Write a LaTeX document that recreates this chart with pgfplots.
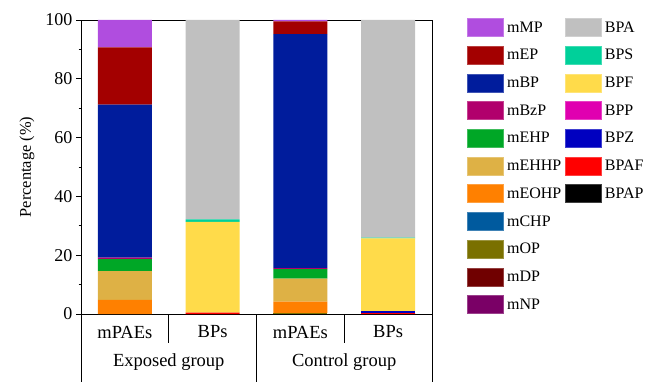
\documentclass[border=0pt]{standalone}
\usepackage{fontspec}
\setmainfont{Liberation Serif}
\usepackage{pgfplots}
\pgfplotsset{compat=1.18}
\definecolor{cMMP}{RGB}{176,77,223}
\definecolor{cMEP}{RGB}{163,0,0}
\definecolor{cMBP}{RGB}{0,28,156}
\definecolor{cMBZP}{RGB}{177,0,108}
\definecolor{cMEHP}{RGB}{0,167,38}
\definecolor{cMEHHP}{RGB}{222,177,69}
\definecolor{cMEOHP}{RGB}{255,128,0}
\definecolor{cMCHP}{RGB}{0,90,158}
\definecolor{cMOP}{RGB}{122,112,0}
\definecolor{cMDP}{RGB}{112,0,0}
\definecolor{cMNP}{RGB}{122,0,102}
\definecolor{cBPA}{RGB}{192,192,192}
\definecolor{cBPS}{RGB}{0,208,154}
\definecolor{cBPF}{RGB}{255,219,74}
\definecolor{cBPP}{RGB}{224,0,176}
\definecolor{cBPZ}{RGB}{0,0,192}
\definecolor{cBPAF}{RGB}{255,0,0}
\definecolor{cBPAP}{RGB}{0,0,0}
\newcommand\leg[2]{\addlegendimage{legend image code/.code={\draw[fill=#1,draw=#1!75!white,line width=0.6bp] (0bp,-9bp) rectangle (36bp,9bp);}}\addlegendentry{#2}}
\newcommand\blankleg{\addlegendimage{empty legend}\addlegendentry{}}
\begin{document}
\begin{tikzpicture}
\begin{axis}[
  at={(81bp,68bp)}, anchor=south west,
  scale only axis, width=351bp, height=294bp,
  xmin=-0.5, xmax=3.5, ymin=0, ymax=100,
  ybar stacked, bar width=0.615,
  xtick=\empty,
  ytick={0,20,...,100}, minor y tick num=1,
  ytick pos=left, tick align=outside,
  major tick length=5bp, minor tick length=2.5bp,
  tick style={black, line width=0.8bp},
  axis line style={black, line width=0.9bp},
  clip=false,
  /pgf/number format/assume math mode=true,
  tick label style={font=\fontsize{18bp}{20bp}\selectfont},
  ylabel={Percentage (\%)},
  ylabel style={at={(axis description cs:-0.154,0.5)}, anchor=center, font=\fontsize{16.4bp}{18bp}\selectfont},
  legend columns=2,
  legend cell align=left,
  legend style={at={(axis description cs:1.0997,1.0058)}, anchor=north west,
    draw=none, fill=none, inner sep=0pt, outer sep=0pt,
    font=\fontsize{16bp}{18bp}\selectfont,
    /tikz/column sep=3.5bp, /tikz/row sep=9.1bp,
    nodes={inner sep=0pt}},
]
\leg{cMMP}{mMP}\leg{cBPA}{BPA}
\leg{cMEP}{mEP}\leg{cBPS}{BPS}
\leg{cMBP}{mBP}\leg{cBPF}{BPF}
\leg{cMBZP}{mBzP}\leg{cBPP}{BPP}
\leg{cMEHP}{mEHP}\leg{cBPZ}{BPZ}
\leg{cMEHHP}{mEHHP}\leg{cBPAF}{BPAF}
\leg{cMEOHP}{mEOHP}\leg{cBPAP}{BPAP}
\leg{cMCHP}{mCHP}\blankleg
\leg{cMOP}{mOP}\blankleg
\leg{cMDP}{mDP}\blankleg
\leg{cMNP}{mNP}
% mPAEs, bottom to top
\addplot[fill=cMNP, draw=none] coordinates {(0,0) (1,0) (2,0) (3,0)};
\addplot[fill=cMDP, draw=none] coordinates {(0,0) (1,0) (2,0) (3,0)};
\addplot[fill=cMOP, draw=none] coordinates {(0,0) (1,0) (2,0.3) (3,0)};
\addplot[fill=cMCHP, draw=none] coordinates {(0,0) (1,0) (2,0) (3,0)};
\addplot[fill=cMEOHP, draw=none] coordinates {(0,4.8) (1,0) (2,3.9) (3,0)};
\addplot[fill=cMEHHP, draw=none] coordinates {(0,9.8) (1,0) (2,7.8) (3,0)};
\addplot[fill=cMEHP, draw=none] coordinates {(0,4.1) (1,0) (2,3.3) (3,0)};
\addplot[fill=cMBZP, draw=none] coordinates {(0,0.5) (1,0) (2,0.3) (3,0)};
\addplot[fill=cMBP, draw=none] coordinates {(0,52.0) (1,0) (2,79.6) (3,0)};
\addplot[fill=cMEP, draw=none] coordinates {(0,19.5) (1,0) (2,4.3) (3,0)};
\addplot[fill=cMMP, draw=none] coordinates {(0,9.3) (1,0) (2,0.5) (3,0)};
% BPs, bottom to top
\addplot[fill=cBPAP, draw=none] coordinates {(0,0) (1,0) (2,0) (3,0)};
\addplot[fill=cBPAF, draw=none] coordinates {(0,0) (1,0.5) (2,0) (3,0.3)};
\addplot[fill=cBPZ, draw=none] coordinates {(0,0) (1,0) (2,0) (3,0.7)};
\addplot[fill=cBPP, draw=none] coordinates {(0,0) (1,0) (2,0) (3,0)};
\addplot[fill=cBPF, draw=none] coordinates {(0,0) (1,30.8) (2,0) (3,24.7)};
\addplot[fill=cBPS, draw=none] coordinates {(0,0) (1,0.9) (2,0) (3,0.3)};
\addplot[fill=cBPA, draw=none] coordinates {(0,0) (1,67.8) (2,0) (3,74.0)};
% category table below the axis
\draw[black, line width=0.9bp] (axis cs:-0.5,0) -- ([yshift=-68bp]axis cs:-0.5,0);
\draw[black, line width=0.9bp] (axis cs:3.5,0) -- ([yshift=-68bp]axis cs:3.5,0);
\draw[black, line width=0.9bp] (axis cs:1.5,0) -- ([yshift=-68bp]axis cs:1.5,0);
\draw[black, line width=0.9bp] (axis cs:0.5,0) -- ([yshift=-29bp]axis cs:0.5,0);
\draw[black, line width=0.9bp] (axis cs:2.5,0) -- ([yshift=-29bp]axis cs:2.5,0);
\node[font=\fontsize{18.5bp}{20bp}\selectfont] at ([yshift=-18bp]axis cs:0,0) {mPAEs};
\node[font=\fontsize{18.5bp}{20bp}\selectfont] at ([yshift=-18bp]axis cs:1,0) {BPs};
\node[font=\fontsize{18.5bp}{20bp}\selectfont] at ([yshift=-18bp]axis cs:2,0) {mPAEs};
\node[font=\fontsize{18.5bp}{20bp}\selectfont] at ([yshift=-18bp]axis cs:3,0) {BPs};
\node[font=\fontsize{18.5bp}{20bp}\selectfont] at ([yshift=-48bp]axis cs:0.5,0) {Exposed group};
\node[font=\fontsize{18.5bp}{20bp}\selectfont] at ([yshift=-48bp]axis cs:2.5,0) {Control group};
\end{axis}
\pgfresetboundingbox
\useasboundingbox (0,0) rectangle (645bp,382bp);
\end{tikzpicture}
\end{document}
